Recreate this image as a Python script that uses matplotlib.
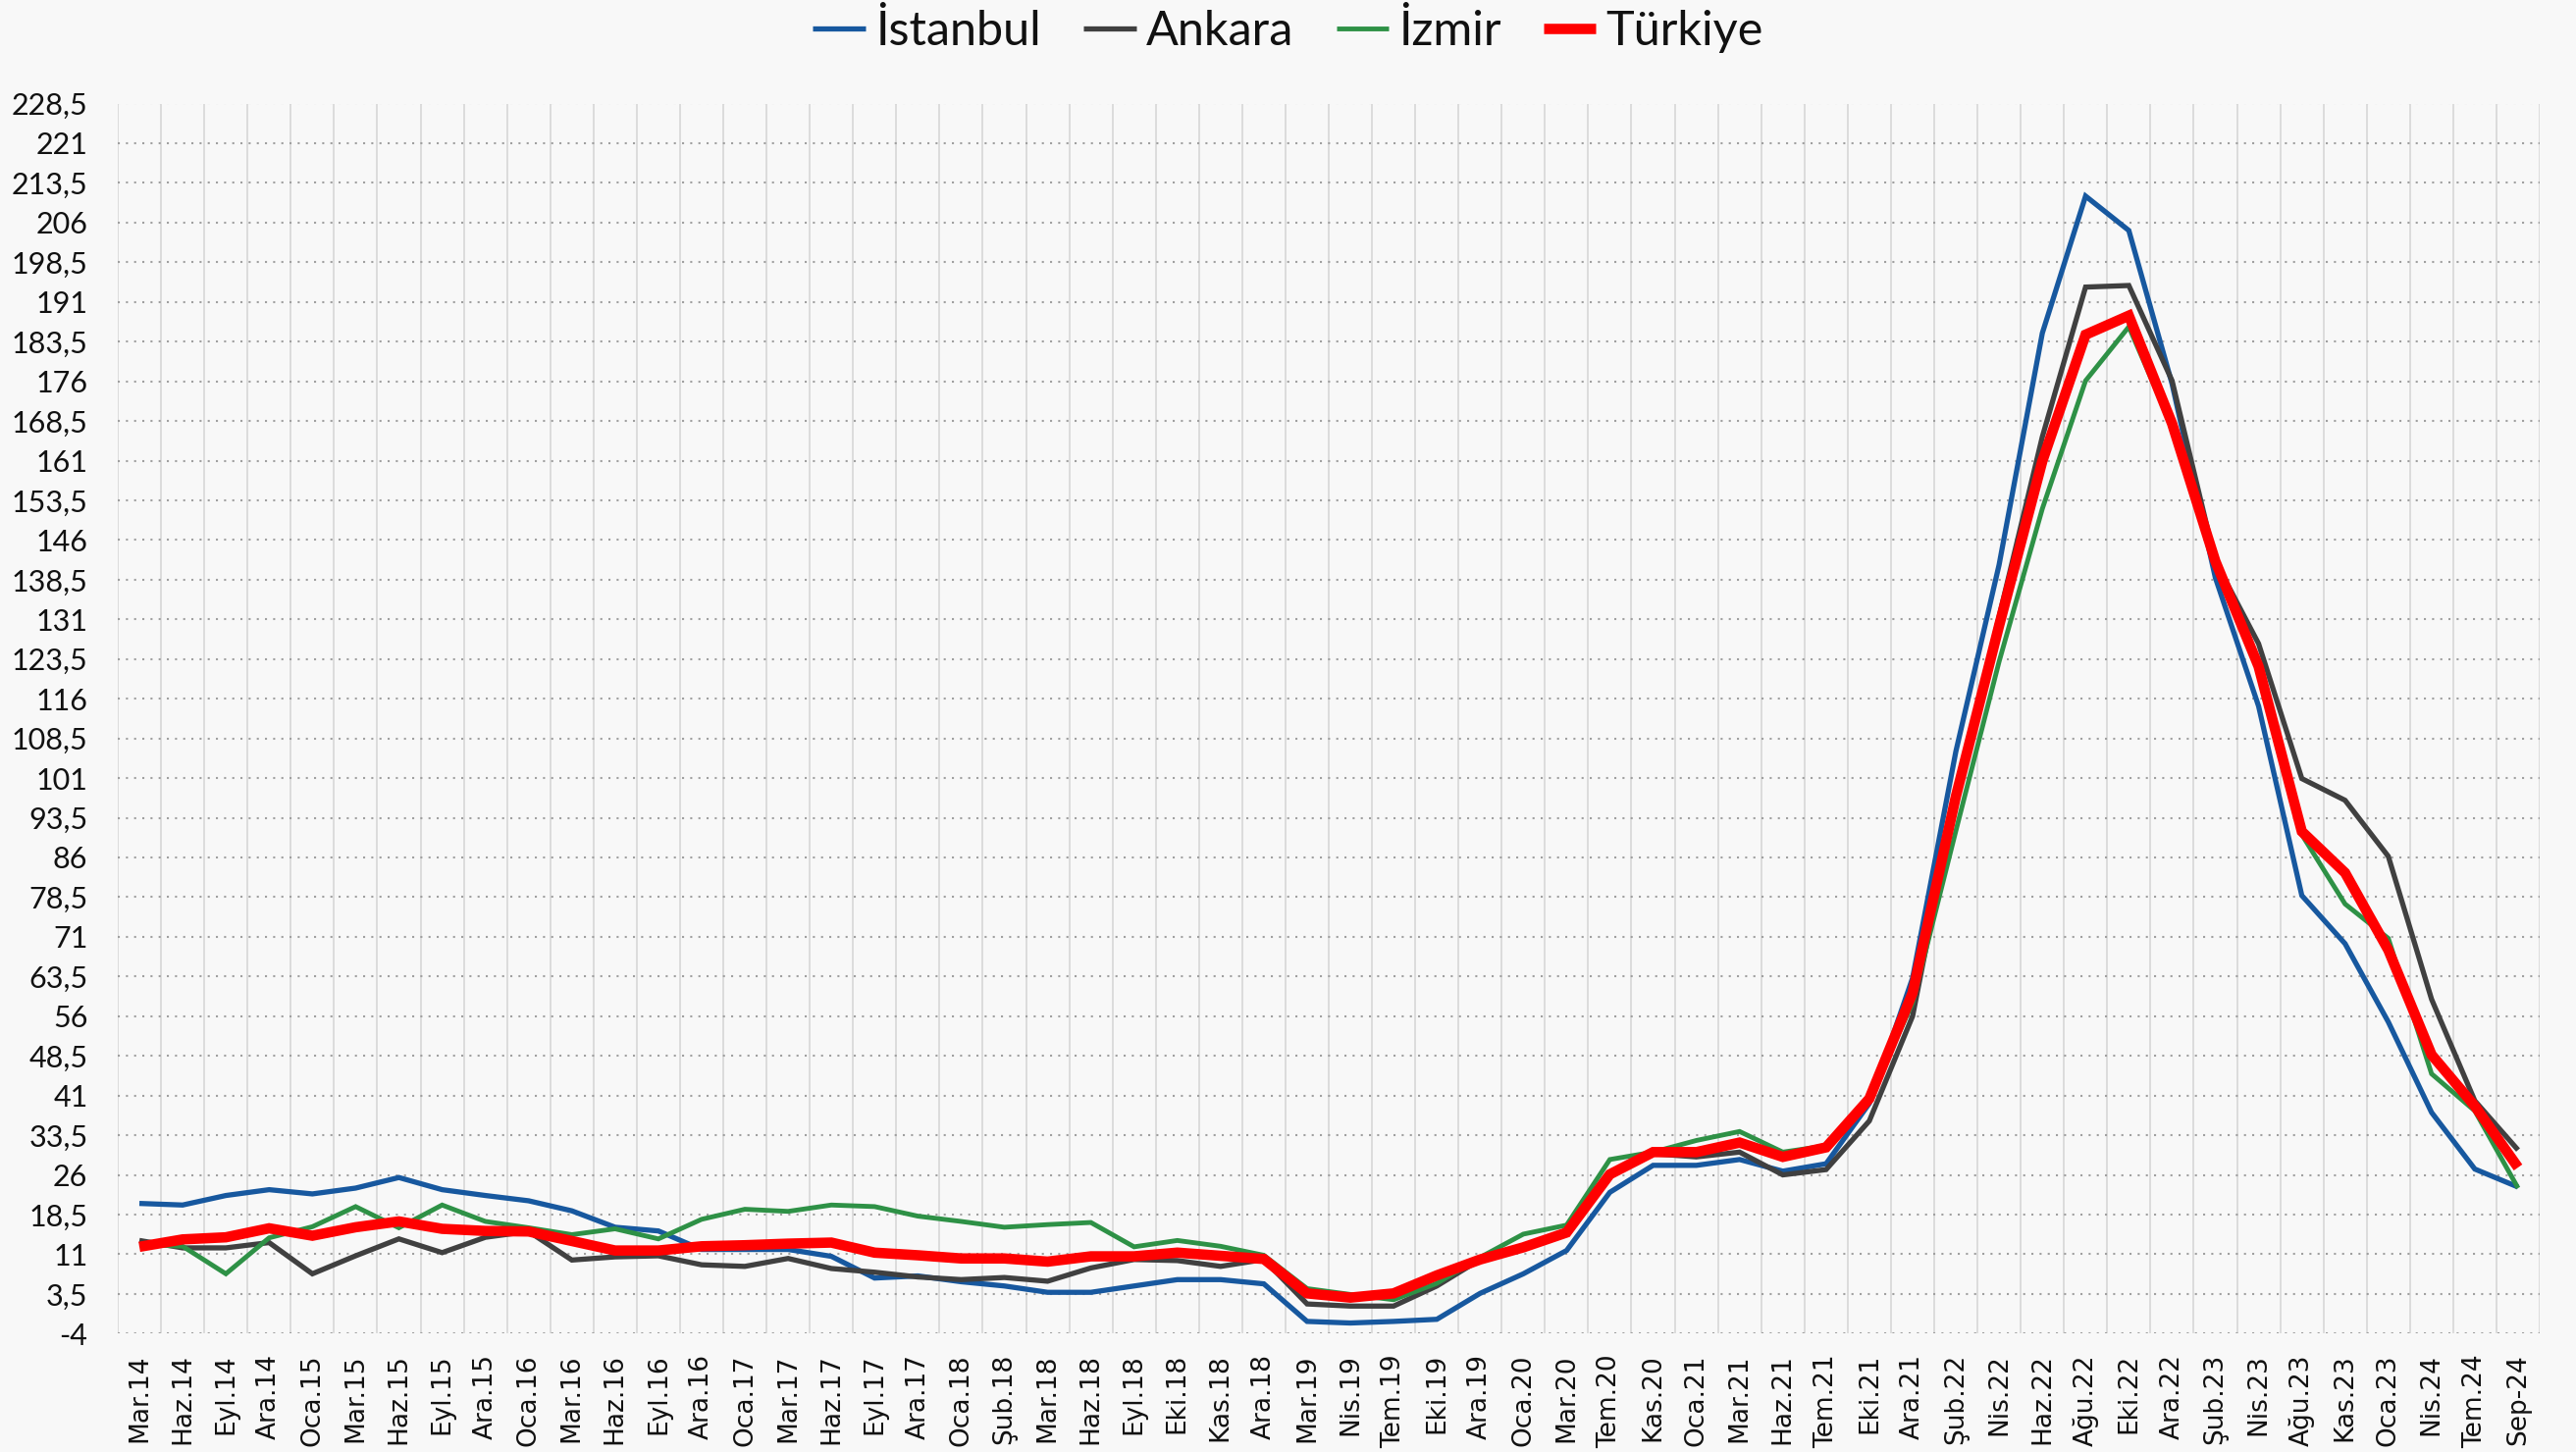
import numpy as np
import matplotlib
matplotlib.use("Agg")
import matplotlib.pyplot as plt
from matplotlib.ticker import FixedLocator, FuncFormatter

categories = ["Mar.14", "Haz.14", "Eyl.14", "Ara.14", "Oca.15", "Mar.15", "Haz.15", "Eyl.15",
              "Ara.15", "Oca.16", "Mar.16", "Haz.16", "Eyl.16", "Ara.16", "Oca.17", "Mar.17",
              "Haz.17", "Eyl.17", "Ara.17", "Oca.18", "Şub.18", "Mar.18", "Haz.18", "Eyl.18",
              "Eki.18", "Kas.18", "Ara.18", "Mar.19", "Nis.19", "Tem.19", "Eki.19", "Ara.19",
              "Oca.20", "Mar.20", "Tem.20", "Kas.20", "Oca.21", "Mar.21", "Haz.21", "Tem.21",
              "Eki.21", "Ara.21", "Şub.22", "Nis.22", "Haz.22", "Ağu.22", "Eki.22", "Ara.22",
              "Şub.23", "Nis.23", "Ağu.23", "Kas.23", "Oca.23", "Nis.24", "Tem.24", "Sep-24"]

istanbul = [20.6, 20.3, 22.1, 23.2, 22.4, 23.5, 25.5, 23.2, 22.1, 21.1, 19.2, 16.1, 15.4, 11.9,
            11.9, 11.9, 10.6, 6.5, 6.9, 5.8, 5.0, 3.8, 3.8, 5.0, 6.2, 6.2, 5.4, -1.7, -2.0, -1.7,
            -1.3, 3.6, 7.3, 11.7, 22.7, 27.8, 27.8, 28.9, 26.7, 28.1, 39.5, 63.2, 106.0, 141.3,
            185.1, 211.0, 204.5, 175.5, 138.9, 114.6, 78.8, 69.7, 54.9, 37.8, 27.1, 23.7]

ankara = [13.6, 12.2, 12.2, 13.2, 7.3, 10.7, 13.9, 11.3, 14.2, 15.3, 9.9, 10.5, 10.7, 9.0,
          8.7, 10.2, 8.3, 7.6, 6.7, 6.2, 6.6, 5.9, 8.4, 10.0, 9.8, 8.7, 10.0, 1.6, 1.2, 1.2,
          5.0, 10.0, 12.3, 15.0, 26.0, 30.0, 29.4, 30.3, 26.0, 27.0, 36.2, 56.0, 97.5, 131.5,
          165.5, 193.8, 194.1, 176.1, 142.0, 126.4, 100.9, 96.8, 86.2, 59.2, 40.0, 30.7]

izmir = [12.9, 12.5, 7.3, 14.1, 16.2, 20.0, 16.0, 20.3, 17.2, 16.0, 14.7, 15.8, 13.9, 17.6,
         19.5, 19.1, 20.3, 20.0, 18.2, 17.2, 16.1, 16.6, 17.0, 12.4, 13.6, 12.5, 10.8, 4.5, 3.4,
         2.4, 5.5, 10.4, 14.8, 16.5, 28.9, 30.3, 32.5, 34.2, 30.3, 31.5, 40.5, 58.5, 91.0, 123.0,
         151.9, 176.1, 186.3, 167.4, 141.4, 122.0, 90.3, 77.2, 70.7, 45.1, 38.1, 23.5]

turkiye = [12.4, 13.8, 14.2, 15.9, 14.5, 16.1, 17.2, 15.8, 15.4, 15.3, 13.5, 11.7, 11.7, 12.5,
           12.7, 13.0, 13.2, 11.3, 10.8, 10.2, 10.2, 9.6, 10.6, 10.6, 11.3, 10.7, 10.1, 3.6, 2.8,
           3.6, 7.0, 10.0, 12.3, 15.1, 26.1, 30.3, 30.3, 32.1, 29.4, 31.2, 40.4, 60.4, 97.5, 129.8,
           160.9, 184.8, 188.4, 168.0, 142.0, 122.1, 90.9, 83.1, 68.5, 48.7, 39.0, 27.4]

y_ticks = list(np.arange(-4, 229, 7.5))

series = [("İstanbul", istanbul, "#17589F", 3.8),
          ("Ankara", ankara, "#404040", 3.8),
          ("İzmir", izmir, "#2E9146", 3.5),
          ("Türkiye", turkiye, "#FF0000", 7.6)]

bg = "#F8F8F8"
fig = plt.figure(figsize=(26.25, 14.8), dpi=100, facecolor=bg)
ax = fig.add_axes([120 / 2625, 1 - 1359.3 / 1480, (2588 - 120) / 2625, (1359.3 - 105.5) / 1480])
ax.set_facecolor(bg)

x = np.arange(len(categories))
handles = []
for i, (name, vals, col, lw) in enumerate(series):
    h, = ax.plot(x, vals, color=col, lw=lw, solid_joinstyle="miter", solid_capstyle="butt",
                 zorder=3 + i, label=name)
    handles.append(h)

ax.set_xlim(-0.5, len(categories) - 0.5)
ax.set_ylim(-4, 228.5)

ax.set_xticks(x)
ax.set_xticklabels(categories, rotation=90, fontsize=19, family="DejaVu Sans", color="#111111")
ax.xaxis.set_minor_locator(FixedLocator(np.arange(-0.5, len(categories), 1.0)))
ax.grid(which="minor", axis="x", color="#D9D9D9", lw=1.3, ls="-", zorder=1)

ax.set_yticks(y_ticks)
def fmt(v, pos):
    if abs(v - round(v)) < 1e-6:
        return "%d" % round(v)
    return ("%.1f" % v).replace(".", ",")
ax.yaxis.set_major_formatter(FuncFormatter(fmt))
for lab in ax.get_yticklabels():
    lab.set_family(["Lato", "DejaVu Sans"])
    lab.set_fontsize(22)
    lab.set_color("#111111")
ax.grid(which="major", axis="y", color="#A0A0A0", lw=1.5, ls=(0, (1, 3)), zorder=1)

ax.tick_params(axis="both", which="both", length=0)
ax.tick_params(axis="y", pad=22)
ax.tick_params(axis="x", pad=15)
for s in ax.spines.values():
    s.set_visible(False)

fig.legend(handles=handles, loc="center", bbox_to_anchor=(0.5, 1 - 32 / 1480), ncol=4,
           frameon=False, prop={"family": ["Lato", "DejaVu Sans"], "size": 35},
           handlelength=1.1, handletextpad=0.2, columnspacing=0.9, labelcolor="#111111")

fig.savefig("out.png", dpi=100, facecolor=bg)
